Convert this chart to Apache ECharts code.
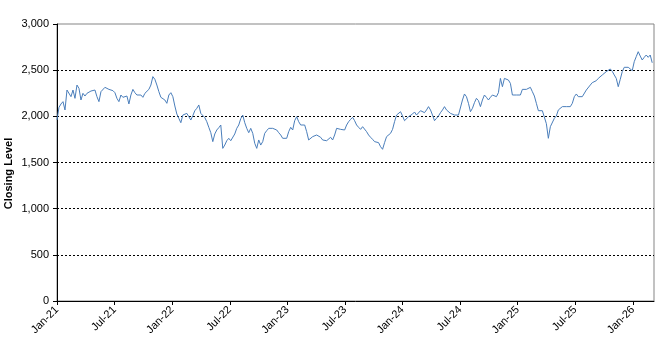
<!DOCTYPE html>
<html>
<head>
<meta charset="utf-8">
<script src="https://cdn.jsdelivr.net/npm/echarts@6/dist/echarts.min.js"></script>
<style>html,body{margin:0;padding:0;background:#fff;}#c{width:671px;height:347px;}</style>
</head>
<body>
<div id="c"></div>
<script>
// Closing levels, evenly spaced (about every 6.3 days) from Jan-21 onward
const closes = [
1960,2097,2134,2159,2069,2285,2292,2213,2285,2195,2339,2303,2177,2249,2220,2249,2231,2274,2256,2285,
2213,2159,2267,2285,2314,2321,2292,2296,2278,2256,2195,2159,2231,2206,2195,2220,2134,2231,2292,2256,
2231,2213,2231,2206,2249,2267,2292,2339,2430,2401,2339,2267,2206,2213,2177,2141,2231,2256,2213,2112,
2025,1978,1931,2014,2004,2032,1996,1960,2007,2061,2087,2123,2032,2040,1986,1942,1881,1823,1726,1809,
1852,1877,1906,1653,1689,1736,1762,1736,1715,1809,1870,1906,1975,2014,1931,1870,1823,1870,1816,1708,
1653,1744,1689,1726,1816,1845,1870,1881,1870,1870,1852,1823,1798,1762,1780,1762,1834,1881,1852,1953,
1996,1942,1906,1906,1906,1834,1744,1744,1780,1762,1798,1780,1773,1744,1762,1736,1744,1773,1744,1798,
1870,1881,1859,1845,1852,1906,1942,1967,1989,1953,1906,1881,1859,1888,1877,1834,1798,1773,1751,1726,
1744,1715,1671,1643,1715,1780,1798,1816,1859,1942,2014,2032,2050,2004,1953,1960,1996,1989,2025,2047,
2014,2032,2061,2061,2040,2069,2105,2069,2014,1953,1978,2004,2040,2069,2105,2069,2061,2032,2025,2014,
2032,2014,2014,2177,2242,2213,2141,2050,2087,2148,2195,2170,2105,2177,2231,2206,2177,2206,2231,2249,
2213,2256,2411,2321,2411,2430,2393,2357,2231,2231,2231,2231,2231,2292,2285,2292,2303,2314,2267,2220,
2141,2061,2069,2061,2069,1921,1762,1888,1906,1978,2004,2069,2076,2105,2105,2105,2123,2105,2141,2213,
2242,2213,2231,2213,2206,2285,2292,2339,2365,2375,2386,2411,2422,2448,2458,2484,2498,2513,2487,2448,
2411,2321,2401,2484,2531,2538,2531,2520,2495,2592,2646,2700,2653,2610,2639,2664,2639,2664,2580
];
const monthStep = 0.2081;          // months between consecutive readings
const axisMaxMonth = 62.2;          // right edge of the plot (early Mar-26)
const yTicks = [0, 500, 1000, 1500, 2000, 2500, 3000];
const monthNames = ['Jan','Feb','Mar','Apr','May','Jun','Jul','Aug','Sep','Oct','Nov','Dec'];
const startYear = 2021;

const seriesData = closes.map((v, i) => [i * monthStep, v]);

const chart = echarts.init(document.getElementById('c'), null, {renderer: 'canvas'});
chart.setOption({
  animation: false,
  backgroundColor: '#ffffff',
  grid: {left: 57, right: 17, top: 24, bottom: 46, containLabel: false, outerBoundsMode: 'none',
         show: true, borderColor: '#858585', borderWidth: 1, backgroundColor: 'transparent'},
  xAxis: {
    type: 'value', min: 0, max: axisMaxMonth, interval: 6,
    axisLine: {show: true, lineStyle: {color: '#000', width: 1}},
    axisTick: {show: true, length: 4, lineStyle: {color: '#000'}},
    splitLine: {show: false},
    axisLabel: {
      rotate: 45, margin: 7, color: '#000', fontSize: 11, fontFamily: 'Liberation Sans, Arial, sans-serif',
      showMaxLabel: false,
      formatter: function (m) {
        const mi = Math.round(m);
        const y = startYear + Math.floor(mi / 12);
        return monthNames[mi % 12] + '-' + String(y).slice(2);
      }
    }
  },
  yAxis: {
    type: 'value', min: yTicks[0], max: yTicks[yTicks.length - 1], interval: 500,
    axisLine: {show: true, lineStyle: {color: '#000', width: 1}},
    axisTick: {show: true, length: 4, lineStyle: {color: '#000'}},
    splitLine: {show: true, showMinLine: false, showMaxLine: false, lineStyle: {color: '#000', type: [2, 2], width: 1}},
    axisLabel: {
      margin: 8, color: '#000', fontSize: 11, fontFamily: 'Liberation Sans, Arial, sans-serif',
      formatter: function (v) { return v.toLocaleString('en-US'); }
    }
  },
  graphic: [{
    type: 'text', left: 3, top: 'middle', rotation: Math.PI / 2,
    style: {text: 'Closing Level', fontWeight: 'bold', fontSize: 11, fill: '#000',
            fontFamily: 'Liberation Sans, Arial, sans-serif'}
  }],
  series: [{
    type: 'line', data: seriesData, showSymbol: false, symbol: 'none',
    lineStyle: {color: '#4a7ebb', width: 1}, clip: true
  }]
});
</script>
</body>
</html>
